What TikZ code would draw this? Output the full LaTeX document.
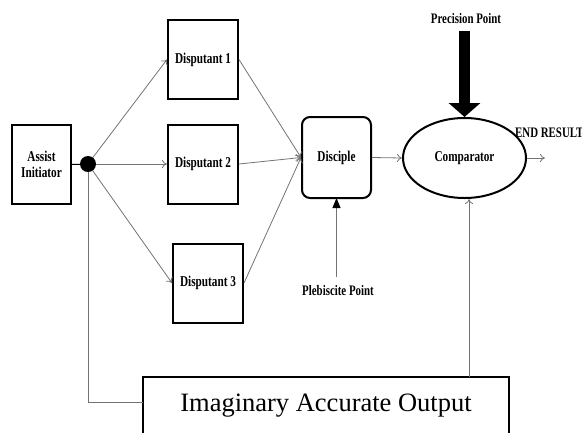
\documentclass[tikz,border=0pt]{standalone}
\usepackage{fontspec}
\usepackage{graphicx}
\setmainfont{Liberation Serif}
\usetikzlibrary{arrows.meta,shapes.geometric}

% condensed bold label text
\newcommand{\lbl}[1]{\scalebox{0.75}[1]{\bfseries #1}}

\tikzset{
  blockbox/.style={draw=black, line width=2pt, fill=white, inner sep=0pt,
    minimum width=70pt, minimum height=79pt, font=\fontsize{15}{17}\selectfont, align=center},
  conn/.style={draw=black!55, line width=0.8pt, -{To[length=5pt,width=8pt]}},
  plain/.style={draw=black!55, line width=0.8pt},
  caption/.style={inner sep=1pt, font=\fontsize{14.5}{16}\selectfont},
}

\begin{document}
\begin{tikzpicture}[x=1pt, y=-1pt]
  \useasboundingbox (0,0) rectangle (582,432);

  % main blocks
  \node[blockbox, minimum width=59pt, minimum height=79pt] (init) at (41.5,164.5) {\lbl{Assist}\\[-1pt]\lbl{Initiator}};
  \coordinate (split) at (88,164);

  \node[blockbox] (d1) at (203,59.5)  {\lbl{Disputant 1}};
  \node[blockbox] (d2) at (203,164)   {\lbl{Disputant 2}};
  \node[blockbox] (d3) at (208,283)   {\lbl{Disputant 3}};

  \node[blockbox, rounded corners=8pt, minimum width=69pt, minimum height=81pt] (disc) at (336.5,157.5) {\lbl{Disciple}};

  \node[ellipse, draw=black, line width=2pt, inner sep=0pt,
        minimum width=123pt, minimum height=80pt,
        font=\fontsize{15}{17}\selectfont] (cmp) at (464.5,158) {\lbl{Comparator}};

  % labels
  \node[caption] (prec) at (466,19) {\lbl{Precision Point}};
  \coordinate (ptop) at (464.5,31);
  \node[caption] (pleb) at (338,291) {\lbl{Plebiscite Point}};
  \coordinate (pbot) at (336.5,277);
  \node[caption, anchor=base west, inner sep=0pt] (endres) at (515,137) {\lbl{END RESULT}};
  \coordinate (endtip) at (545,158);

  % bottom reference box (runs past the lower edge)
  \draw[line width=2pt] (143,440) -- (143,377) -- (509,377) -- (509,440);
  \node[font=\fontsize{26.5}{30}\selectfont, inner sep=0pt] (out) at (326,406) {Imaginary Accurate Output};
  \coordinate (outnw) at (143,402);
  \coordinate (outtop) at (469,377);

  % connectors
  \draw[black, line width=1pt] (init.east) -- (split);
  \draw[conn] (split) -- (d1.west);
  \draw[conn] (split) -- (d2.west);
  \draw[conn] (split) -- (d3.west);
  \draw[conn] (d1.east) -- (disc.west);
  \draw[conn] (d2.east) -- (disc.west);
  \draw[conn] (d3.east) -- (disc.west);
  \draw[conn] (disc.east) -- (cmp.west);
  \draw[conn] (cmp.east) -- (endtip);
  \draw[plain, -{Triangle[length=10pt 0 0, width=8pt 0 0, color=black]}, shorten >=-1pt] (pbot) -- (disc.south);
  \draw[black, line width=11pt, -{Triangle[length=14pt 0 0, width=31pt 0 0]}] (ptop) -- (cmp.north);
  \draw[plain] (split) -- (split |- outnw) -- (outnw);
  \draw[conn] (outtop) -- (outtop |- cmp.south);

  % junction dot on top of the lines it joins
  \fill[black] (split) circle (8pt);
\end{tikzpicture}
\end{document}
